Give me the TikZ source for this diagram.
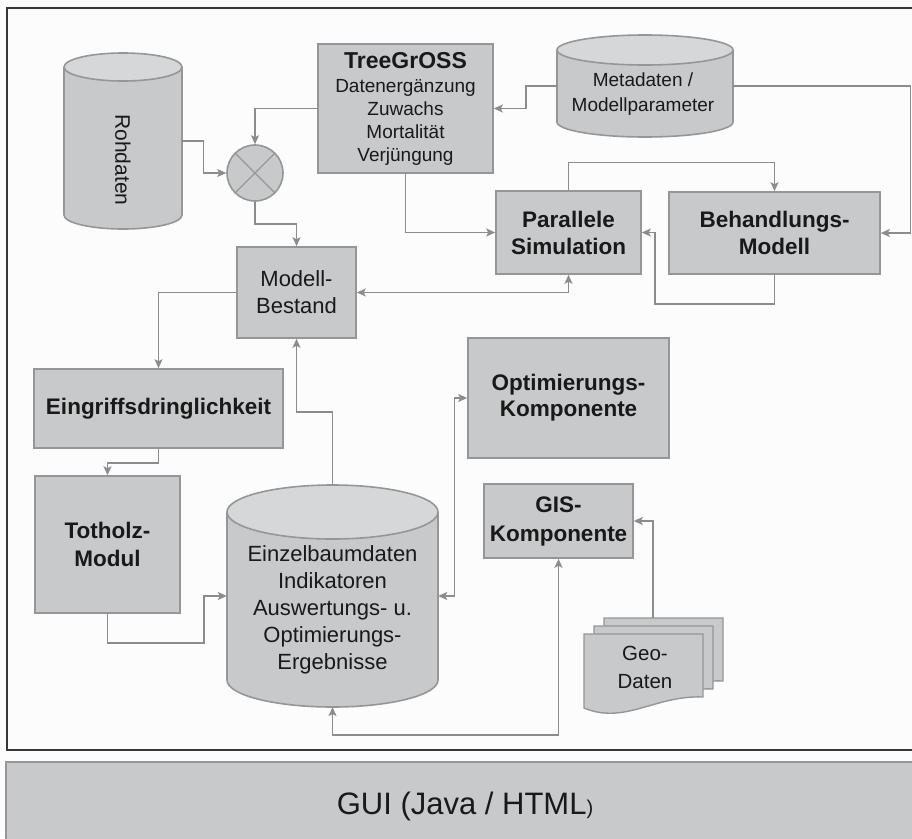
\documentclass[tikz,border=0pt]{standalone}
\usepackage{fontspec}
\setmainfont{Liberation Sans}
\usetikzlibrary{arrows.meta,calc}
\definecolor{boxfill}{RGB}{200,201,203}
\definecolor{capfill}{RGB}{214,215,217}
\definecolor{boxline}{RGB}{150,150,152}
\definecolor{arrowc}{RGB}{140,140,142}
\definecolor{framec}{RGB}{55,55,55}
\definecolor{txt}{RGB}{25,25,25}
\definecolor{bgc}{RGB}{252,252,252}
\newcommand\drawcyl[5]{%
  \pgfmathsetmacro\cylcx{(#1+#2)/2}%
  \pgfmathsetmacro\cylrx{(#2-#1)/2}%
  \filldraw[fill=boxfill,draw=boxline,line width=1.6pt] (\cylcx,#4) ellipse [x radius=\cylrx, y radius=#5];
  \fill[boxfill] (#1,#3) rectangle (#2,#4);
  \draw[boxline,line width=1.6pt] (#1,#3) -- (#1,#4) (#2,#3) -- (#2,#4);
  \filldraw[fill=capfill,draw=boxline,line width=1.6pt] (\cylcx,#3) ellipse [x radius=\cylrx, y radius=#5];
}
\begin{document}
\begin{tikzpicture}[x=1pt,y=-1pt,
  box/.style={draw=boxline,fill=boxfill,line width=1.6pt,inner sep=0pt,align=center,text=txt,font=\fontsize{22.5}{27}\selectfont\bfseries},
  plainbox/.style={box,font=\fontsize{22}{27}\selectfont},
  anchorbox/.style={inner sep=0pt,draw=none},
  lbl/.style={align=center,text=txt,inner sep=0pt},
  conn/.style={draw=arrowc,line width=1.4pt},
  arr/.style={conn,-{Stealth[length=9pt,width=8pt,inset=2pt]}},
  darr/.style={conn,{Stealth[length=9pt,width=8pt,inset=2pt]}-{Stealth[length=9pt,width=8pt,inset=2pt]}},
  docstyle/.style={fill=boxfill,draw=boxline,line width=1.4pt},
]
\useasboundingbox (0,0) rectangle (912,838);
\fill[bgc] (0,0) rectangle (912,838);

% outer frame
\draw[framec,line width=2.2pt] (7,8) rectangle (920,750);

% GUI bar
\fill[boxfill] (6,762) rectangle (920,845);
\draw[boxline,line width=1.5pt] (6,845) -- (6,762) -- (920,762);
\node[lbl,font=\fontsize{31}{31}\selectfont] (gui) at (465,806) {GUI (Java / HTML{\fontsize{20}{20}\selectfont)}};

% Rohdaten cylinder
\drawcyl{64}{182}{67}{215}{14}
\node[anchorbox,minimum width=118pt,minimum height=148pt] (roh) at (123,141) {};
\node[lbl,font=\fontsize{21}{21}\selectfont] at (123,160) {\rotatebox{-90}{Rohdaten}};

% Metadaten cylinder
\drawcyl{557}{733}{50}{122}{15}
\node[anchorbox,minimum width=176pt,minimum height=72pt] (meta) at (645,86) {};
\node[lbl,font=\fontsize{19}{25}\selectfont] at (643,94.5) {Metadaten /\\Modellparameter};

% mixing circle
\node[circle,draw=boxline,fill=boxfill,line width=1.6pt,minimum size=56pt,inner sep=0pt] (mix) at (255,173) {};
\draw[boxline,line width=1.4pt] (mix.north east) -- (mix.south west) (mix.north west) -- (mix.south east);

% Einzelbaumdaten cylinder
\drawcyl{227}{438}{512}{680}{27}
\node[anchorbox,minimum width=211pt,minimum height=168pt] (einz) at (332.5,596) {};
\coordinate (einztop) at (332.5,485);
\coordinate (einzbot) at (332.5,707);
\node[lbl,font=\fontsize{22}{27}\selectfont] at (332.5,609.5) {Einzelbaumdaten\\Indikatoren\\Auswertungs- u.\\Optimierungs-\\Ergebnisse};

% Geo-Daten documents
\begin{scope}[shift={(20,-16)}]
\filldraw[docstyle] (584,634) -- (703,634) -- (703,697) .. controls (655,695) and (625,725) .. (584,708) -- cycle;
\end{scope}
\begin{scope}[shift={(10,-8)}]
\filldraw[docstyle] (584,634) -- (703,634) -- (703,697) .. controls (655,695) and (625,725) .. (584,708) -- cycle;
\end{scope}
\filldraw[docstyle] (584,634) -- (703,634) -- (703,697) .. controls (655,695) and (625,725) .. (584,708) -- cycle;
\node[anchorbox,minimum width=119pt,minimum height=74pt] (geo) at (643.5,671) {};
\coordinate (geotop) at (653,618);
\node[lbl,font=\fontsize{20.5}{28}\selectfont] at (645,667) {Geo-\\Daten};

% boxes
\node[box,minimum width=175pt,minimum height=129pt,font=\fontsize{19}{23}\selectfont] (tg) at (405.5,108.5)
  {{\fontsize{23}{27}\selectfont\bfseries TreeGrOSS}\\[1pt]Datenergänzung\\Zuwachs\\Mortalität\\Verjüngung};
\node[box,minimum width=145pt,minimum height=83pt] (parsim) at (568.5,232.5) {Parallele\\Simulation};
\node[box,minimum width=211pt,minimum height=82pt] (behand) at (774.5,233) {Behandlungs-\\Modell};
\node[plainbox,minimum width=119pt,minimum height=91pt] (modell) at (296.5,292.5) {Modell-\\Bestand};
\node[box,minimum width=249pt,minimum height=79pt] (eingriff) at (158.5,408.5) {Eingriffsdringlichkeit};
\node[box,minimum width=145pt,minimum height=137pt,font=\fontsize{22.5}{28}\selectfont\bfseries] (totholz) at (107.5,544.5) {Totholz-\\Modul};
\node[box,minimum width=201pt,minimum height=120pt,font=\fontsize{22.5}{26}\selectfont\bfseries] (opt) at (568.5,398) {Optimierungs-\\Komponente};
\node[box,minimum width=149pt,minimum height=74pt,font=\fontsize{22.5}{29}\selectfont\bfseries] (gis) at (558.5,521) {GIS-\\Komponente};

% connectors
\draw[arr] (roh.east) -- ++(21,0) |- (mix.west);
\draw[arr] (tg.west) -| (mix.north);
\draw[arr] (meta.west) -- ++(-31,0) |- (tg.east);
\draw[arr] (mix.south) -- ++(0,22) -| (modell.north);
\draw[arr] (tg.south) |- (parsim.west);
\draw[arr] (parsim.north) -- ++(0,-28) -| (behand.north);
\draw[arr] (behand.south) -- ++(0,29) -| ($(parsim.east)+(13,0)$) -- (parsim.east);
\draw[arr] (meta.east) -- ++(177,0) |- (behand.east);
\draw[darr] (modell.east) -| (parsim.south);
\draw[arr] (modell.west) -| (eingriff.north);
\draw[arr] (eingriff.south) -- ++(0,14) -| (totholz.north);
\draw[arr] (totholz.south) -- ++(0,29) -| ($(einz.west)+(-23,0)$) -- (einz.west);
\draw[arr] (einztop) -- ++(0,-73) -| (modell.south);
\draw[darr] (einz.east) -- ++(16,0) |- (opt.west);
\draw[arr] (geotop) |- (gis.east);
\draw[darr] (einzbot) -- ++(0,28) -| (gis.south);
\end{tikzpicture}
\end{document}
